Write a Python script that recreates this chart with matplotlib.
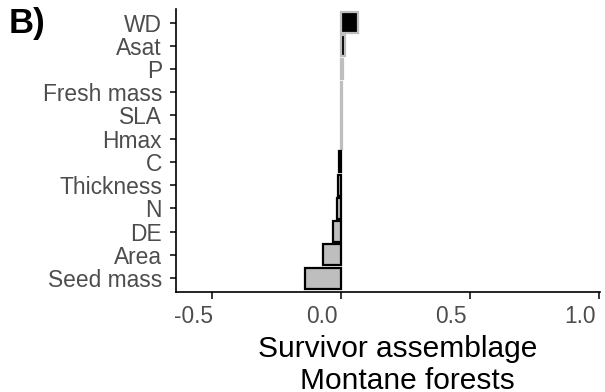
import matplotlib.pyplot as plt
import matplotlib.transforms as mtransforms
import numpy as np

plt.rcParams['font.family'] = ['Liberation Sans', 'DejaVu Sans']

traits = ['WD', 'Asat', 'P', 'Fresh mass', 'SLA', 'Hmax', 'C',
          'Thickness', 'N', 'DE', 'Area', 'Seed mass']
effects = [0.065, 0.015, 0.006, 0.004, 0.004, 0.002, -0.008,
           -0.012, -0.015, -0.03, -0.07, -0.14]
xticks = [-0.5, 0.0, 0.5, 1.0]
xtick_labels = ['-0.5', '0.0', '0.5', '1.0']

fig = plt.figure(figsize=(6.05, 3.92), dpi=100)
ax = fig.add_axes([0.291, 0.255, 0.701, 0.723])

pos = np.arange(len(traits))
vals = np.array(effects)
fills = np.where(vals > 0, 'black', '#bebebe')
edges = np.where(vals > 0, '#bebebe', 'black')
ax.barh(pos, vals, height=0.9, color=fills, edgecolor=edges, linewidth=1.6)

ax.set_xlim(-0.641, 1.006)
ax.set_ylim(len(traits) - 0.4, -0.6)
ax.set_yticks(pos)
ax.set_yticklabels(traits)
ax.set_xticks(xticks)
ax.set_xticklabels(xtick_labels)

for side in ['top', 'right']:
    ax.spines[side].set_visible(False)
for side in ['left', 'bottom']:
    ax.spines[side].set_linewidth(1.2)
ax.tick_params(axis='both', colors='black', labelcolor='#4d4d4d',
               labelsize=16.4, width=1.1)
ax.tick_params(axis='x', length=5, pad=4)
ax.tick_params(axis='y', length=4, pad=6.2)

# x tick labels sit a little left of their ticks
shift = mtransforms.ScaledTranslation(-0.19, 0, fig.dpi_scale_trans)
for lab in ax.get_xticklabels():
    lab.set_transform(lab.get_transform() + shift)

# two-line axis title, each line placed on its own baseline
ax.text(0.522, -0.2295, 'Survivor assemblage', transform=ax.transAxes,
        ha='center', va='baseline', fontsize=21.5, color='black')
ax.text(0.546, -0.343, 'Montane forests', transform=ax.transAxes,
        ha='center', va='baseline', fontsize=21.5, color='black')

fig.text(0.014, 0.94, 'B)', fontsize=25, fontweight='bold', va='center')

fig.savefig('out.png', dpi=100)
